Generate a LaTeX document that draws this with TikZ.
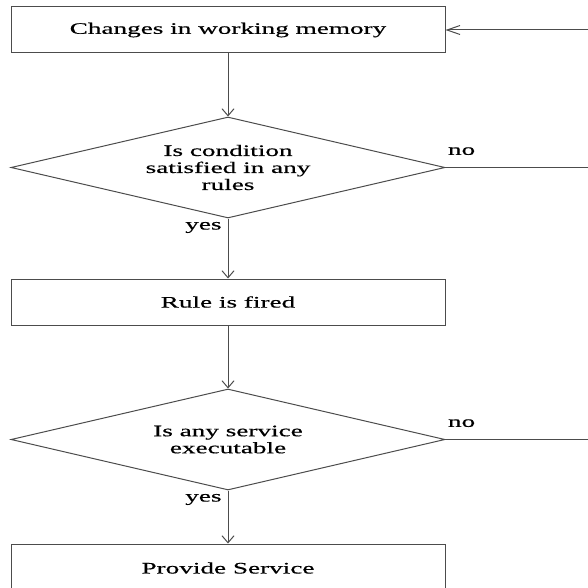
\documentclass[tikz,border=0pt]{standalone}
\usepackage{fontspec}
\setmainfont{Liberation Serif}[FakeStretch=1.7, FakeBold=0.5]
\usetikzlibrary{arrows.meta, positioning, shapes.geometric}
\definecolor{linegray}{gray}{0.3}
\tikzset{
>={Straight Barb[length=7pt,width=12pt]}, % open arrow heads (down)
side arrow/.style={-{Straight Barb[length=13pt,width=9pt]}}, % open arrow head (left)
node distance=63pt, % gap between two blocks
every node/.style={font=\fontsize{16}{17}\selectfont, inner sep=1pt},
block/.style={draw=linegray, line width=1pt, rectangle, minimum width=434pt, minimum height=46pt}, % process boxes
decision/.style={draw=linegray, line width=1pt, diamond, aspect=4.3, minimum width=434pt, minimum height=101pt, align=center}, % question diamonds
flow/.style={draw=linegray, line width=1pt}, % connectors
}
\begin{document}
\begin{tikzpicture}
  \useasboundingbox (0,0) rectangle (588pt,-588pt);
  \coordinate (rgt) at (590pt,0);

  \node[block] (chg) at (228pt,-30pt) {Changes in working memory};
  \node[decision, below=of chg] (cond) {Is condition\\satisfied in any\\rules};
  \node[block, below=60pt of cond] (fired) {Rule is fired};
  \node[decision, below=of fired] (serv) {Is any service\\executable};
  \node[block, below=53pt of serv, minimum height=48pt] (prov) {Provide Service};

  \draw[flow, ->] (chg) -- (cond);
  \draw[flow, ->] (cond) -- node[pos=0, anchor=north east, xshift=-5pt, yshift=-2pt]{yes} (fired);
  \draw[flow, ->] (fired) -- (serv);
  \draw[flow, ->] (serv) -- node[pos=0, anchor=north east, xshift=-5pt, yshift=-2pt]{yes} (prov);
  \draw[flow, side arrow] (chg.east -| rgt) -- (chg.east);

  \draw[flow] (cond.east) -- node[pos=0, anchor=south west, xshift=1pt, yshift=11pt]{no} (cond.east -| rgt);
  \draw[flow] (serv.east) -- node[pos=0, anchor=south west, xshift=1pt, yshift=11pt]{no} (serv.east -| rgt);
\end{tikzpicture}
\end{document}
